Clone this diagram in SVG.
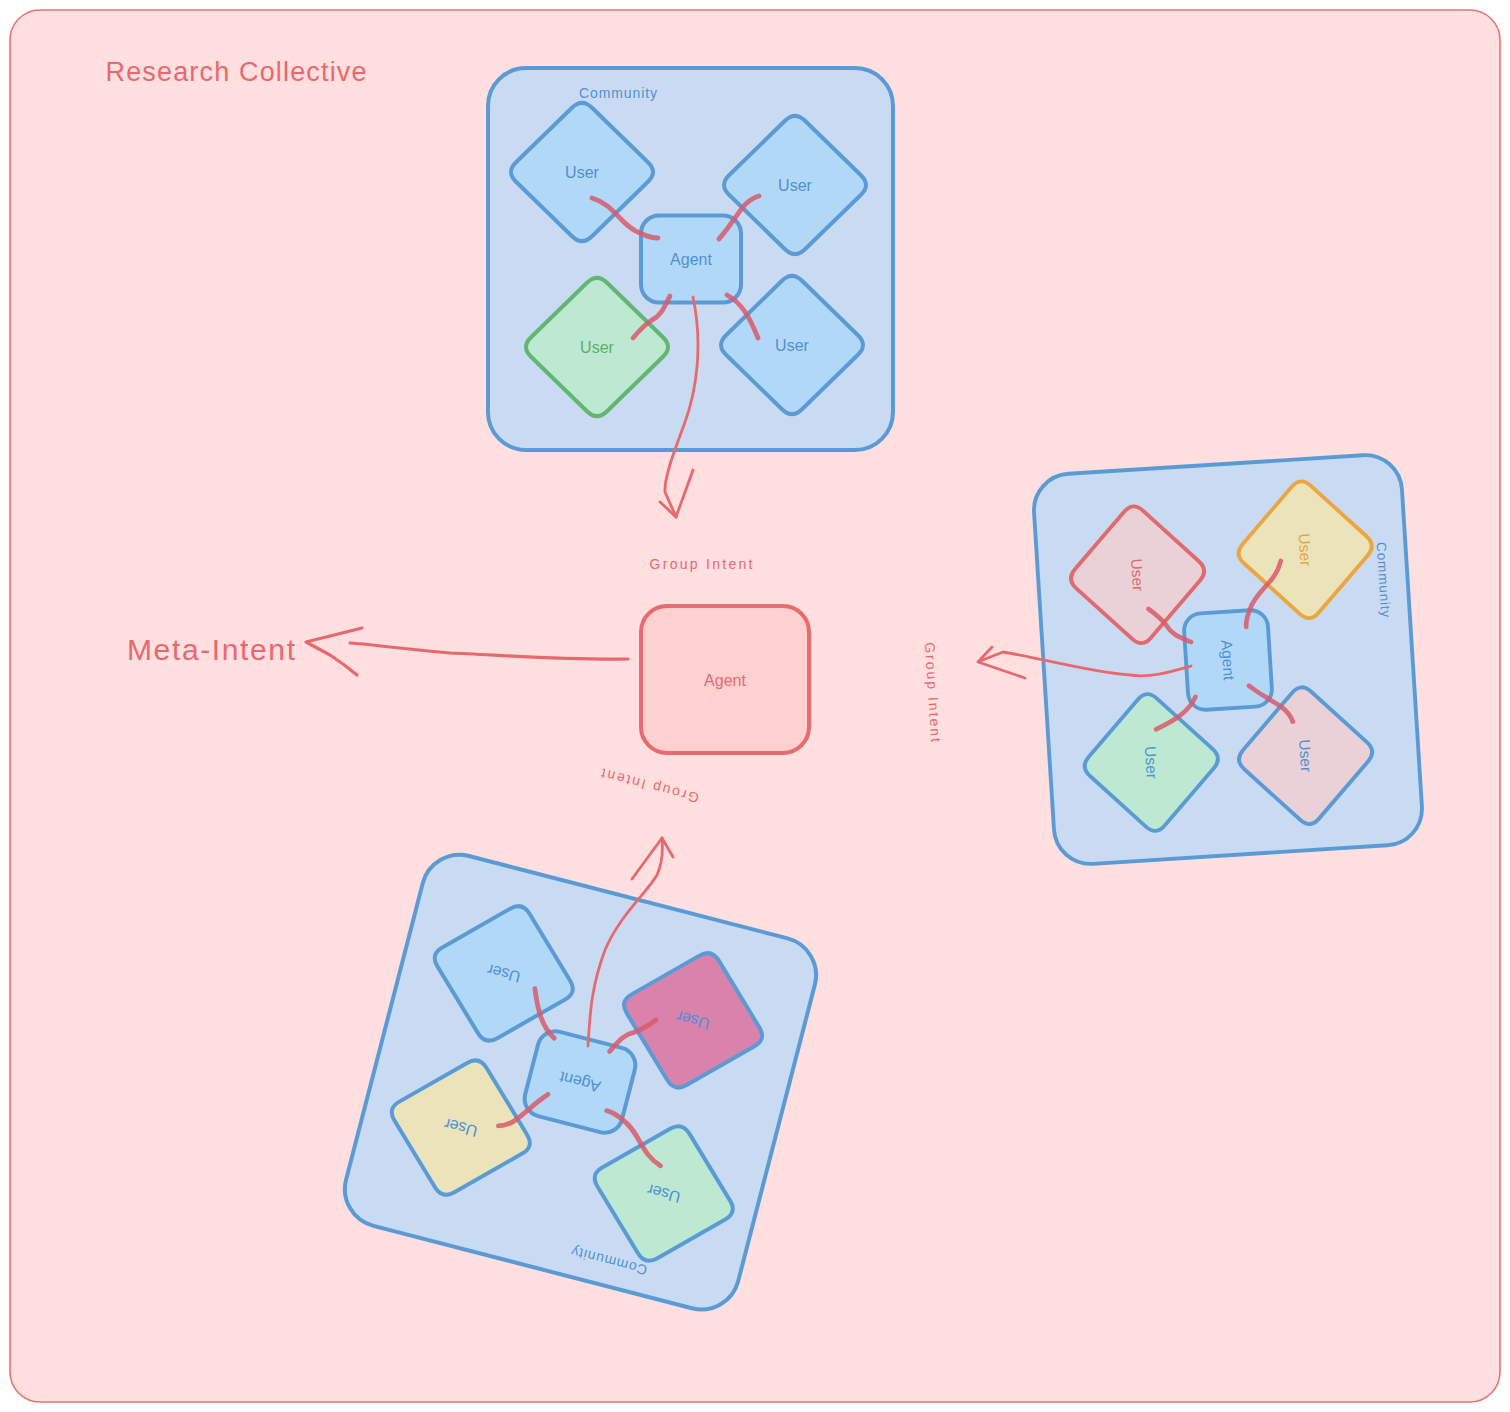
<svg xmlns="http://www.w3.org/2000/svg" xmlns:xlink="http://www.w3.org/1999/xlink" width="1510" height="1412" viewBox="0 0 1510 1412">
<style>
text{font-family:"Liberation Sans","DejaVu Sans",sans-serif;text-anchor:middle;dominant-baseline:central}
.frame{fill:#ffdfe0;stroke:#e57373;stroke-width:1.6}
.comm{fill:#c9dbf2;stroke:#5b9bd5;stroke-width:4}
.agent{fill:#b2d8f8;stroke:#5b9bd5;stroke-width:4}
.uBlue{fill:#b2d8f8;stroke:#5b9bd5;stroke-width:4}
.uGreen{fill:#bde9d2;stroke:#62b672;stroke-width:4}
.uGreenB{fill:#bde9d2;stroke:#5b9bd5;stroke-width:4}
.uYellow{fill:#ebe4bb;stroke:#eba640;stroke-width:4}
.uYellowB{fill:#ebe4bb;stroke:#5b9bd5;stroke-width:4}
.uPinkB{fill:#e9d1d7;stroke:#5b9bd5;stroke-width:4}
.uPinkR{fill:#e9d1d7;stroke:#e06a6e;stroke-width:4}
.uMag{fill:#d982ab;stroke:#5b9bd5;stroke-width:4}
.tBlue{fill:#4f90d2;font-size:16px}
.tGreen{fill:#5cae6c;font-size:16px}
.tOrange{fill:#e9a23a;font-size:16px}
.tRed{fill:#e06a6e;font-size:16px}
.tComm{fill:#4f90d2;font-size:14px}
.lbl{fill:#e8696d;font-size:14px}
.stub{fill:none;stroke:#d9596a;stroke-opacity:0.85;stroke-width:4.8;stroke-linecap:round}
.arr{fill:none;stroke:#e8696d;stroke-width:2.8;stroke-linecap:round;stroke-linejoin:round}
.arrT{fill:none;stroke:#e8696d;stroke-width:3.2;stroke-linecap:round;stroke-linejoin:round}
</style>
<defs>
<path id="dia" d="M-65.97,-9.76 L-10.03,-64.24 Q0,-74 10.03,-64.24 L65.97,-9.76 Q76,0 65.97,9.76 L10.03,64.24 Q0,74 -10.03,64.24 L-65.97,9.76 Q-76,0 -65.97,-9.76 Z"/>
<g id="stubs">
<path d="M-99,-61 C-76,-54 -71,-34 -51,-26 C-43,-22 -39,-21 -33,-21"/>
<path d="M68,-63 C54,-59 49,-47 41,-37 C36,-29 31,-24 28,-20"/>
<path d="M-21,37 C-26,46 -29,56 -39,61 C-47,66 -53,73 -58,79"/>
<path d="M36,36 C51,44 59,59 67,79"/>
</g>
</defs>

<rect class="frame" x="10" y="10" width="1490" height="1392" rx="30"/>
<text id="title" x="236" y="72" fill="#e8696d" style="font-size:27px" textLength="261">Research Collective</text>

<!-- Top community -->
<g id="community-top" transform="translate(691,259)">
<rect class="comm" x="-203" y="-191" width="405" height="382" rx="38"/>
<text class="tComm" x="-73" y="-166" textLength="78">Community</text>
<g id="top-user-tl"><use href="#dia" class="uBlue" transform="translate(-109,-87)"/><text class="tBlue" x="-109" y="-87">User</text></g>
<g id="top-user-tr"><use href="#dia" class="uBlue" transform="translate(104,-74)"/><text class="tBlue" x="104" y="-74">User</text></g>
<g id="top-user-bl"><use href="#dia" class="uGreen" transform="translate(-94,88)"/><text class="tGreen" x="-94" y="88">User</text></g>
<g id="top-user-br"><use href="#dia" class="uBlue" transform="translate(101,86)"/><text class="tBlue" x="101" y="86">User</text></g>
<g id="top-agent"><rect class="agent" x="-50" y="-43.5" width="100" height="87" rx="18"/><text class="tBlue" x="0" y="0">Agent</text></g>
</g>

<!-- Right community -->
<g id="community-right" transform="translate(1228,660) rotate(86.4) scale(0.965)">
<rect class="comm" x="-203" y="-191" width="405" height="382" rx="38"/>
<text class="tComm" x="-73" y="-166" textLength="78">Community</text>
<g id="right-user-tl"><use href="#dia" class="uYellow" transform="translate(-109,-87)"/><text class="tOrange" x="-109" y="-87">User</text></g>
<g id="right-user-tr"><use href="#dia" class="uPinkB" transform="translate(104,-74)"/><text class="tBlue" x="104" y="-74">User</text></g>
<g id="right-user-bl"><use href="#dia" class="uPinkR" transform="translate(-94,88)"/><text class="tRed" x="-94" y="88">User</text></g>
<g id="right-user-br"><use href="#dia" class="uGreenB" transform="translate(101,86)"/><text class="tBlue" x="101" y="86">User</text></g>
<g id="right-agent"><rect class="agent" x="-50" y="-43.5" width="100" height="87" rx="18"/><text class="tBlue" x="0" y="0">Agent</text></g>
</g>

<!-- Bottom community -->
<g id="community-bottom" transform="translate(580,1082) rotate(194.5)">
<rect class="comm" x="-203" y="-191" width="405" height="382" rx="38"/>
<text class="tComm" x="-73" y="-166" textLength="78">Community</text>
<g id="bottom-user-tl"><use href="#dia" class="uGreenB" transform="translate(-109,-87)"/><text class="tBlue" x="-109" y="-87">User</text></g>
<g id="bottom-user-tr"><use href="#dia" class="uYellowB" transform="translate(104,-74)"/><text class="tBlue" x="104" y="-74">User</text></g>
<g id="bottom-user-bl"><use href="#dia" class="uMag" transform="translate(-94,88)"/><text class="tBlue" x="-94" y="88">User</text></g>
<g id="bottom-user-br"><use href="#dia" class="uBlue" transform="translate(101,86)"/><text class="tBlue" x="101" y="86">User</text></g>
<g id="bottom-agent"><rect class="agent" x="-50" y="-43.5" width="100" height="87" rx="18"/><text class="tBlue" x="0" y="0">Agent</text></g>
</g>

<!-- Central agent -->
<g id="center-agent">
<rect x="641" y="606" width="168" height="147" rx="26" fill="#ffd0d0" stroke="#ea6b6d" stroke-width="4"/>
<text class="lbl" x="725" y="680" style="font-size:16px">Agent</text>
</g>

<g id="meta-intent">
<text x="211" y="649" fill="#e8696d" style="font-size:30px" textLength="168">Meta-Intent</text>
</g>

<!-- Connectors -->
<g id="connectors">
<use href="#stubs" class="stub" transform="translate(691,259)"/>
<use href="#stubs" class="stub" transform="translate(1228,660) rotate(86.4) scale(0.965)"/>
<use href="#stubs" class="stub" transform="translate(580,1082) rotate(194.5)"/>

<path class="arr" d="M693,297 C703,345 697,390 684,425 C674,452 664,478 665,492 L676,517"/>
<path class="arr" d="M660,502 L676,517 L693,470"/>
<text class="lbl" x="701" y="564" textLength="103">Group Intent</text>

<path class="arr" d="M1191,666 C1170,672 1150,678 1130,675 C1090,672 1050,660 1003,652 L980,661"/>
<path class="arr" d="M992,647 L978,662 L1025,678"/>
<text class="lbl" transform="translate(933,692) rotate(86.4)" x="0" y="0" textLength="100">Group Intent</text>

<path class="arr" d="M588,1046 C590,1010 592,985 605,950 C620,915 645,895 657,875 C663,862 663,850 662,838"/>
<path class="arr" d="M632,879 L662,838 L673,857"/>
<text class="lbl" transform="translate(650,786) rotate(194.5)" x="0" y="0" textLength="100">Group Intent</text>

<path class="arrT" d="M628,659 C560,660 500,655 450,653 C410,650 380,645 350,643"/>
<path class="arrT" d="M362,628 L306,642 L330,655 Q345,665 357,675"/>
</g>
</svg>
